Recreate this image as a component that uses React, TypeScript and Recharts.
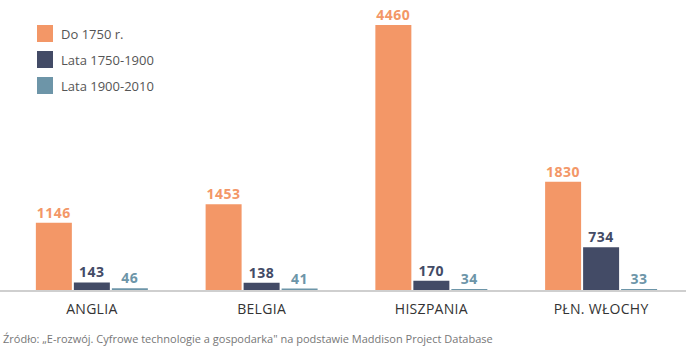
import { BarChart, Bar, XAxis, YAxis, LabelList } from 'recharts';

const countries = ['ANGLIA', 'BELGIA', 'HISZPANIA', 'PŁN. WŁOCHY'];
const do1750 = [1146, 1453, 4460, 1830];
const lata1750_1900 = [143, 138, 170, 734];
const lata1900_2010 = [46, 41, 34, 33];

const series = [
  { key: 'a', name: 'Do 1750 r.', color: '#f39767' },
  { key: 'b', name: 'Lata 1750-1900', color: '#434b66' },
  { key: 'c', name: 'Lata 1900-2010', color: '#6d95a8' },
];

const data = countries.map((c, i) => ({
  country: c,
  a: do1750[i],
  b: lata1750_1900[i],
  c: lata1900_2010[i],
}));

const FONT = '"Open Sans", sans-serif';

function LegendBox() {
  return (
    <div
      style={{
        position: 'absolute',
        left: 37,
        top: 25,
        display: 'flex',
        flexDirection: 'column',
        gap: 9,
      }}
    >
      {series.map((s) => (
        <div key={s.key} style={{ display: 'flex', alignItems: 'center', height: 17 }}>
          <span style={{ width: 16, height: 17, background: s.color, display: 'inline-block' }} />
          <span style={{ marginLeft: 8, fontSize: 13, color: '#555', fontFamily: FONT }}>{s.name}</span>
        </div>
      ))}
    </div>
  );
}

export default function App() {
  return (
    <div
      style={{
        position: 'absolute',
        left: 0,
        top: 0,
        width: 686,
        height: 355,
        background: '#fff',
        fontFamily: FONT,
      }}
    >
      <BarChart
        width={686}
        height={330}
        data={data}
        margin={{ top: 25, right: 0, left: 0, bottom: 9 }}
        barCategoryGap="17%"
        barGap={2}
      >
        <XAxis
          dataKey="country"
          height={30}
          padding={{ left: 7, right: 0 }}
          tickLine={false}
          tickMargin={7}
          axisLine={{ stroke: '#cfcfcf', strokeWidth: 2 }}
          tick={{ fontSize: 14, fill: '#333', fontFamily: FONT, letterSpacing: 0.3 }}
        />
        <YAxis hide domain={[0, 4460]} />
        {series.map((s) => (
          <Bar key={s.key} dataKey={s.key} name={s.name} fill={s.color} isAnimationActive={false}>
            <LabelList
              dataKey={s.key}
              position="top"
              offset={5}
              style={{ fill: s.color, fontSize: 14, fontWeight: 700, fontFamily: FONT, letterSpacing: 0.5 }}
            />
          </Bar>
        ))}
      </BarChart>
      <LegendBox />
      <div
        style={{
          position: 'absolute',
          left: 3,
          top: 331,
          fontSize: 11,
          color: '#777',
          fontFamily: FONT,
          whiteSpace: 'nowrap',
        }}
      >
        Źródło: „E-rozwój. Cyfrowe technologie a gospodarka" na podstawie Maddison Project Database
      </div>
    </div>
  );
}
